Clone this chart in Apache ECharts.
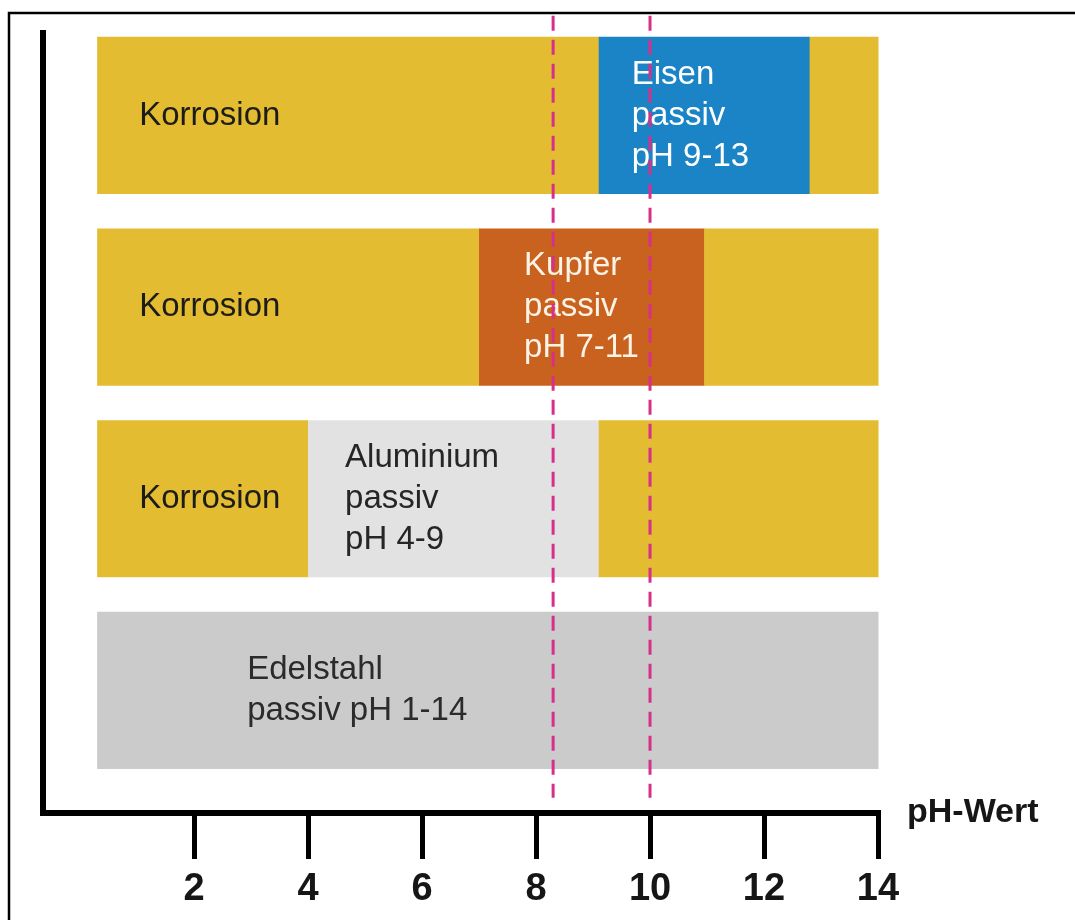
<!DOCTYPE html>
<html>
<head>
    <meta charset="UTF-8">
    <title>Passivität von Metallen nach pH-Wert</title>
    <script src="https://cdn.jsdelivr.net/npm/echarts/dist/echarts.min.js"></script>
    <style>
    body {
      margin: 0;
      background: #fff;
    }
    #chart {
      width: 1075px;
      height: 920px;
    }
  </style>
</head>
<body>
<div id="chart"></div>

<script>
    // rows, top to bottom
    var rows = ['Eisen', 'Kupfer', 'Aluminium', 'Edelstahl'];

    // one entry per coloured segment
    var segRow   = [0, 0, 0, 1, 1, 1, 2, 2, 2, 3];
    var segFrom  = [0.3, 9.1, 12.8, 0.3, 7.0, 10.95, 0.3, 4.0, 9.1, 0.3];
    var segTo    = [9.1, 12.8, 14, 7.0, 10.95, 14, 4.0, 9.1, 14, 14];
    var segKind  = ['korrosion', 'eisen', 'korrosion',
                    'korrosion', 'kupfer', 'korrosion',
                    'korrosion', 'aluminium', 'korrosion',
                    'edelstahl'];
    var segLabel = ['Korrosion', 'Eisen\npassiv\npH 9-13', '',
                    'Korrosion', 'Kupfer\npassiv\npH 7-11', '',
                    'Korrosion', 'Aluminium\npassiv\npH 4-9', '',
                    'Edelstahl\npassiv pH 1-14'];

    var tickValues = [2, 4, 6, 8, 10, 12, 14];
    var dashedPH = [8.3, 10];

    // look of each segment kind
    var kindStyle = {
      korrosion: { fill: '#e4bc31', text: '#1c1c1a', pad: 42 },
      eisen:     { fill: '#1a84c6', text: '#ffffff', pad: 33 },
      kupfer:    { fill: '#c9621f', text: '#fbf3e6', pad: 45 },
      aluminium: { fill: '#e2e2e2', text: '#262626', pad: 37 },
      edelstahl: { fill: '#cbcbcb', text: '#2b2b2b', pad: 150 }
    };

    var fontFamily = '"Liberation Sans", Arial, Helvetica, sans-serif';
    var yMin = -0.43, yMax = 3.64;
    var lineTop = -0.52, lineBottom = 3.56;

    var segData = [];
    for (var i = 0; i < segRow.length; i++) {
      segData.push([segFrom[i], segRow[i], segTo[i]]);
    }

    function renderSegment(params, api) {
      var from = api.value(0), row = api.value(1), to = api.value(2);
      var st = kindStyle[segKind[params.dataIndex]];
      var p0 = api.coord([from, row]);
      var p1 = api.coord([to, row]);
      var h = Math.abs(api.size([0, 1])[1]) * 0.82;
      var children = [{
        type: 'rect',
        shape: { x: p0[0], y: p0[1] - h / 2, width: p1[0] - p0[0] + 0.5, height: h },
        style: { fill: st.fill }
      }];
      var label = segLabel[params.dataIndex];
      if (label) {
        children.push({
          type: 'text',
          x: p0[0] + st.pad,
          y: p0[1],
          style: {
            text: label,
            fill: st.text,
            fontSize: 33,
            fontFamily: fontFamily,
            lineHeight: 41,
            align: 'left',
            verticalAlign: 'middle'
          }
        });
      }
      return { type: 'group', children: children };
    }

    var chart = echarts.init(document.getElementById('chart'));

    var series = [{
      type: 'custom',
      renderItem: renderSegment,
      encode: { x: [0, 2], y: 1 },
      data: segData,
      silent: true
    }];

    // dashed magenta marker lines
    dashedPH.forEach(function (v) {
      series.push({
        type: 'line',
        data: [[v, lineTop], [v, lineBottom]],
        showSymbol: false,
        clip: false,
        silent: true,
        z: 5,
        lineStyle: { color: '#d6308a', width: 3, type: [15, 9] }
      });
    });

    chart.setOption({
      animation: false,
      backgroundColor: '#ffffff',
      grid: { left: 43, right: 197, top: 33, bottom: 107 },
      graphic: [{
        type: 'polyline',
        shape: { points: [[9, 920], [9, 13], [1075, 13]] },
        style: { stroke: '#000', lineWidth: 2.5, fill: null }
      }],
      xAxis: {
        type: 'value',
        min: -0.65,
        max: 14,
        name: 'pH-Wert',
        nameLocation: 'end',
        nameGap: 29,
        nameTextStyle: { fontSize: 34, fontWeight: 'bold', color: '#161616', fontFamily: fontFamily },
        axisLine: { onZero: false, lineStyle: { color: '#000', width: 6, cap: 'square' } },
        axisTick: { show: true, customValues: tickValues, length: 46, lineStyle: { color: '#000', width: 5 } },
        axisLabel: {
          customValues: tickValues,
          margin: 58,
          fontSize: 38,
          fontWeight: 'bold',
          color: '#161616',
          fontFamily: fontFamily
        },
        splitLine: { show: false }
      },
      yAxis: {
        type: 'value',
        inverse: true,
        min: yMin,
        max: yMax,
        axisLine: { show: true, onZero: false, lineStyle: { color: '#000', width: 6, cap: 'square' } },
        axisTick: { show: false },
        axisLabel: { show: false },
        splitLine: { show: false }
      },
      series: series
    });
  </script>
</body>
</html>
